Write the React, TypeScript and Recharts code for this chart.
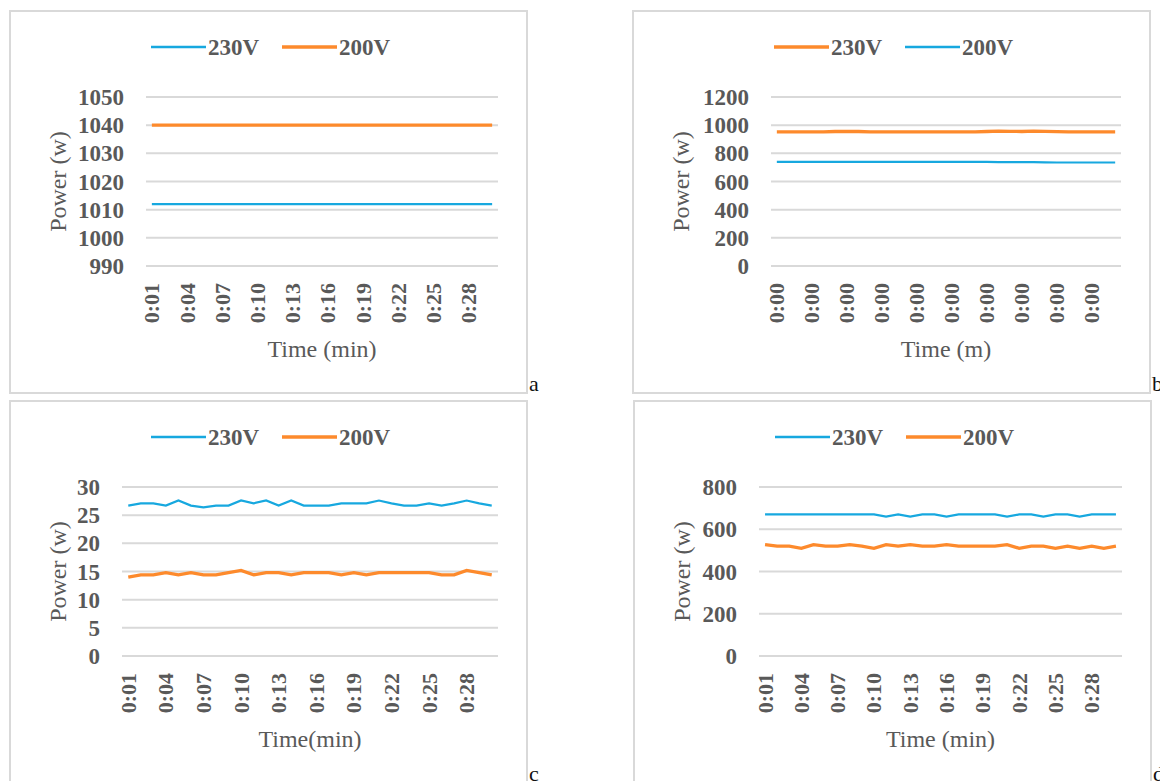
import { LineChart, Line, XAxis, YAxis, CartesianGrid } from "recharts"

// categories
const times = [
  "0:01", "0:02", "0:03", "0:04", "0:05", "0:06", "0:07", "0:08", "0:09", "0:10",
  "0:11", "0:12", "0:13", "0:14", "0:15", "0:16", "0:17", "0:18", "0:19", "0:20",
  "0:21", "0:22", "0:23", "0:24", "0:25", "0:26", "0:27", "0:28", "0:29", "0:30",
]
const timesB = [
  "0:00", "0:00", "0:00", "0:00", "0:00", "0:00", "0:00", "0:00", "0:00", "0:00",
  "0:00", "0:00", "0:00", "0:00", "0:00", "0:00", "0:00", "0:00", "0:00", "0:00",
  "0:00", "0:00", "0:00", "0:00", "0:00", "0:00", "0:00", "0:00", "0:00", "0:00",
]

// panel a
const a230 = [
  1012, 1012, 1012, 1012, 1012, 1012, 1012, 1012, 1012, 1012,
  1012, 1012, 1012, 1012, 1012, 1012, 1012, 1012, 1012, 1012,
  1012, 1012, 1012, 1012, 1012, 1012, 1012, 1012, 1012, 1012,
]
const a200 = [
  1040, 1040, 1040, 1040, 1040, 1040, 1040, 1040, 1040, 1040,
  1040, 1040, 1040, 1040, 1040, 1040, 1040, 1040, 1040, 1040,
  1040, 1040, 1040, 1040, 1040, 1040, 1040, 1040, 1040, 1040,
]
const aTicks = [990, 1000, 1010, 1020, 1030, 1040, 1050]

// panel b
const b230 = [
  953, 953, 953, 953, 953, 955, 956, 955, 953, 953,
  953, 953, 953, 953, 953, 953, 953, 953, 955, 957,
  956, 955, 957, 956, 954, 953, 953, 953, 953, 953,
]
const b200 = [
  740, 740, 740, 740, 740, 740, 740, 740, 740, 740,
  740, 740, 740, 740, 740, 740, 740, 740, 739, 738,
  738, 738, 738, 736, 735, 735, 735, 735, 735, 735,
]
const bTicks = [0, 200, 400, 600, 800, 1000, 1200]

// panel c
const c230 = [
  26.7, 27.1, 27.1, 26.7, 27.6, 26.7, 26.4, 26.7, 26.7, 27.6,
  27.1, 27.6, 26.7, 27.6, 26.7, 26.7, 26.7, 27.1, 27.1, 27.1,
  27.6, 27.1, 26.7, 26.7, 27.1, 26.7, 27.1, 27.6, 27.1, 26.7,
]
const c200 = [
  14.0, 14.4, 14.4, 14.8, 14.4, 14.8, 14.4, 14.4, 14.8, 15.2,
  14.4, 14.8, 14.8, 14.4, 14.8, 14.8, 14.8, 14.4, 14.8, 14.4,
  14.8, 14.8, 14.8, 14.8, 14.8, 14.4, 14.4, 15.2, 14.8, 14.4,
]
const cTicks = [0, 5, 10, 15, 20, 25, 30]

// panel d
const d230 = [
  670, 670, 670, 670, 670, 670, 670, 670, 670, 670,
  660, 670, 660, 670, 670, 660, 670, 670, 670, 670,
  660, 670, 670, 660, 670, 670, 660, 670, 670, 670,
]
const d200 = [
  527, 520, 520, 510, 527, 520, 520, 527, 520, 510,
  527, 520, 527, 520, 520, 527, 520, 520, 520, 520,
  527, 510, 520, 520, 510, 520, 510, 520, 510, 520,
]
const dTicks = [0, 200, 400, 600, 800]

const BLUE = "#17a8df"
const ORANGE = "#fd8a2c"
const GRAY = "#595959"
const FONT = "'Liberation Serif', 'Times New Roman', serif"

const W = 519
const H = 384
const PLOT_TOP = 87
const PLOT_RIGHT = 489
const PLOT_BOTTOM = 256

type Series = { name: string; values: number[]; color: string; width: number }

type PanelProps = {
  left: number
  top: number
  plotLeft: number
  labels: string[]
  series: Series[]
  domain: [number, number]
  ticks: number[]
  xTitle: string
  letter: string
}

const RotatedTick = (props: any) => {
  const { x, y, payload } = props
  return (
    <text
      x={x}
      y={y}
      transform={`rotate(-90 ${x} ${y})`}
      textAnchor="end"
      dy="0.34em"
      fill={GRAY}
      fontFamily={FONT}
      fontSize={22}
      fontWeight="bold"
    >
      {payload.value}
    </text>
  )
}

function Panel({ left, top, plotLeft, labels, series, domain, ticks, xTitle, letter }: PanelProps) {
  const rows = labels.map((t, i) => {
    const row: any = { t }
    series.forEach((s) => {
      row[s.name] = s.values[i]
    })
    return row
  })
  const band = (PLOT_RIGHT - plotLeft) / labels.length
  const legendStart = 262 - 120

  return (
    <div style={{ position: "absolute", left, top, width: W, height: H }}>
      <div
        style={{
          position: "absolute",
          left: 0,
          top: 0,
          width: W,
          height: H,
          boxSizing: "border-box",
          border: "2px solid #d9d9d9",
        }}
      />
      <div style={{ position: "absolute", left: 0, top: 0 }}>
        <LineChart
          width={W}
          height={H}
          data={rows}
          margin={{ top: PLOT_TOP, right: W - PLOT_RIGHT, bottom: 0, left: 0 }}
        >
          <CartesianGrid vertical={false} stroke="#d9d9d9" strokeWidth={2} />
          <XAxis
            dataKey="t"
            interval={2}
            height={H - PLOT_BOTTOM}
            axisLine={false}
            tickLine={false}
            tickSize={0}
            tickMargin={17}
            padding={{ left: band / 2, right: band / 2 }}
            tick={<RotatedTick />}
          />
          <YAxis
            width={plotLeft}
            domain={domain}
            ticks={ticks}
            interval={0}
            axisLine={false}
            tickLine={false}
            tickSize={0}
            tickMargin={22}
            tick={{ fill: GRAY, fontFamily: FONT, fontSize: 23, fontWeight: "bold" }}
          />
          {series.map((s) => (
            <Line
              key={s.name}
              type="linear"
              dataKey={s.name}
              stroke={s.color}
              strokeWidth={s.width}
              dot={false}
              activeDot={false}
              isAnimationActive={false}
            />
          ))}
        </LineChart>
      </div>
      <svg
        width={W + 40}
        height={H}
        style={{ position: "absolute", left: 0, top: 0, overflow: "visible", pointerEvents: "none" }}
      >
        {series.map((s, i) => {
          const x0 = legendStart + i * 131
          return (
            <g key={s.name}>
              <line x1={x0} y1={37} x2={x0 + 55} y2={37} stroke={s.color} strokeWidth={s.width + 0.3} />
              <text x={x0 + 57} y={45} fill={GRAY} fontFamily={FONT} fontSize={23} fontWeight="bold">
                {s.name}
              </text>
            </g>
          )
        })}
        <text
          x={49}
          y={(PLOT_TOP + PLOT_BOTTOM) / 2}
          transform={`rotate(-90 49 ${(PLOT_TOP + PLOT_BOTTOM) / 2})`}
          textAnchor="middle"
          dominantBaseline="central"
          fill={GRAY}
          fontFamily={FONT}
          fontSize={24}
        >
          Power (w)
        </text>
        <text
          x={(plotLeft + PLOT_RIGHT) / 2}
          y={347}
          textAnchor="middle"
          fill={GRAY}
          fontFamily={FONT}
          fontSize={24}
        >
          {xTitle}
        </text>
        <text x={520} y={381} fill="#111" fontFamily={FONT} fontSize={22}>
          {letter}
        </text>
      </svg>
    </div>
  )
}

export default function App() {
  return (
    <div
      style={{
        position: "absolute",
        left: 0,
        top: 0,
        width: 1160,
        height: 781,
        overflow: "hidden",
        background: "#fff",
      }}
    >
      <Panel
        left={9}
        top={10}
        plotLeft={137}
        labels={times}
        series={[
          { name: "230V", values: a230, color: BLUE, width: 2.2 },
          { name: "200V", values: a200, color: ORANGE, width: 3.3 },
        ]}
        domain={[990, 1050]}
        ticks={aTicks}
        xTitle="Time (min)"
        letter="a"
      />
      <Panel
        left={632}
        top={10}
        plotLeft={139}
        labels={timesB}
        series={[
          { name: "230V", values: b230, color: ORANGE, width: 3.3 },
          { name: "200V", values: b200, color: BLUE, width: 2.2 },
        ]}
        domain={[0, 1200]}
        ticks={bTicks}
        xTitle="Time (m)"
        letter="b"
      />
      <Panel
        left={9}
        top={400}
        plotLeft={113}
        labels={times}
        series={[
          { name: "230V", values: c230, color: BLUE, width: 2.2 },
          { name: "200V", values: c200, color: ORANGE, width: 3.3 },
        ]}
        domain={[0, 30]}
        ticks={cTicks}
        xTitle="Time(min)"
        letter="c"
      />
      <Panel
        left={633}
        top={400}
        plotLeft={126}
        labels={times}
        series={[
          { name: "230V", values: d230, color: BLUE, width: 2.2 },
          { name: "200V", values: d200, color: ORANGE, width: 3.3 },
        ]}
        domain={[0, 800]}
        ticks={dTicks}
        xTitle="Time (min)"
        letter="d"
      />
    </div>
  )
}
